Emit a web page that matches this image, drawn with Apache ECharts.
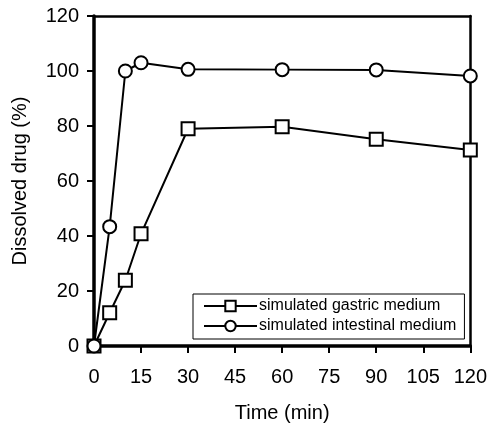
<!DOCTYPE html>
<html>
<head>
<meta charset="utf-8">
<script src="https://cdn.jsdelivr.net/npm/echarts@6/dist/echarts.min.js"></script>
<style>
  html, body { margin: 0; padding: 0; background: #fff; }
  #chart { width: 490px; height: 430px; }
</style>
</head>
<body>
<div id="chart"></div>
<script>
  const timeMin = [0, 5, 10, 15, 30, 60, 90, 120];
  const gastric = [0, 12.1, 23.9, 40.8, 79.0, 79.7, 75.2, 71.3];
  const intestinal = [0, 43.4, 100, 103, 100.6, 100.5, 100.4, 98.2];
  const seriesNames = ["simulated gastric medium", "simulated intestinal medium"];

  const font = "Liberation Sans, Arial, sans-serif";
  const pairs = (ys) => timeMin.map((t, i) => [t, ys[i]]);

  const chart = echarts.init(document.getElementById("chart"));
  chart.setOption({
    animation: false,
    textStyle: { fontFamily: font, color: "#000" },
    grid: { left: 94, right: 18, top: 16, bottom: 84 },
    legend: {
      orient: "vertical",
      left: 193,
      top: 294,
      padding: [4, 8, 5, 10],
      itemGap: 4,
      itemWidth: 53,
      itemHeight: 13,
      borderColor: "#000",
      borderWidth: 1,
      textStyle: { fontFamily: font, fontSize: 16, color: "#000", padding: [0, 0, 0, -3] },
      data: seriesNames,
    },
    xAxis: [
      {
        type: "value",
        min: 0,
        max: 120,
        interval: 15,
        name: "Time (min)",
        nameLocation: "middle",
        nameGap: 57,
        nameTextStyle: { fontSize: 20, color: "#000" },
        axisLine: { lineStyle: { color: "#000", width: 3.5 } },
        axisTick: { length: 7, lineStyle: { color: "#000", width: 2 } },
        axisLabel: { fontSize: 20, color: "#000", margin: 21 },
        splitLine: { show: false },
      },
      {
        type: "value",
        position: "top",
        min: 0,
        max: 120,
        axisLine: { show: true, onZero: false, lineStyle: { color: "#000", width: 2.5 } },
        axisTick: { show: false },
        axisLabel: { show: false },
        splitLine: { show: false },
      },
    ],
    yAxis: [
      {
        type: "value",
        min: 0,
        max: 120,
        interval: 20,
        name: "Dissolved drug (%)",
        nameLocation: "middle",
        nameGap: 64,
        nameTextStyle: { fontSize: 20, color: "#000" },
        axisLine: { show: true, lineStyle: { color: "#000", width: 3.5 } },
        axisTick: { show: true, length: 7, lineStyle: { color: "#000", width: 2 } },
        axisLabel: { fontSize: 20, color: "#000", margin: 15 },
        splitLine: { show: false },
      },
      {
        type: "value",
        position: "right",
        min: 0,
        max: 120,
        axisLine: { show: true, onZero: false, lineStyle: { color: "#000", width: 2.5 } },
        axisTick: { show: false },
        axisLabel: { show: false },
        splitLine: { show: false },
      },
    ],
    series: [
      {
        name: seriesNames[0],
        type: "line",
        data: pairs(gastric),
        symbol: "rect",
        symbolSize: 13,
        showAllSymbol: true,
        clip: false,
        z: 3,
        lineStyle: { color: "#000", width: 2 },
        itemStyle: { color: "#fff", borderColor: "#000", borderWidth: 2 },
      },
      {
        name: seriesNames[1],
        type: "line",
        data: pairs(intestinal),
        symbol: "circle",
        symbolSize: 13,
        showAllSymbol: true,
        clip: false,
        z: 4,
        lineStyle: { color: "#000", width: 2 },
        itemStyle: { color: "#fff", borderColor: "#000", borderWidth: 2 },
      },
    ],
  });
</script>
</body>
</html>
